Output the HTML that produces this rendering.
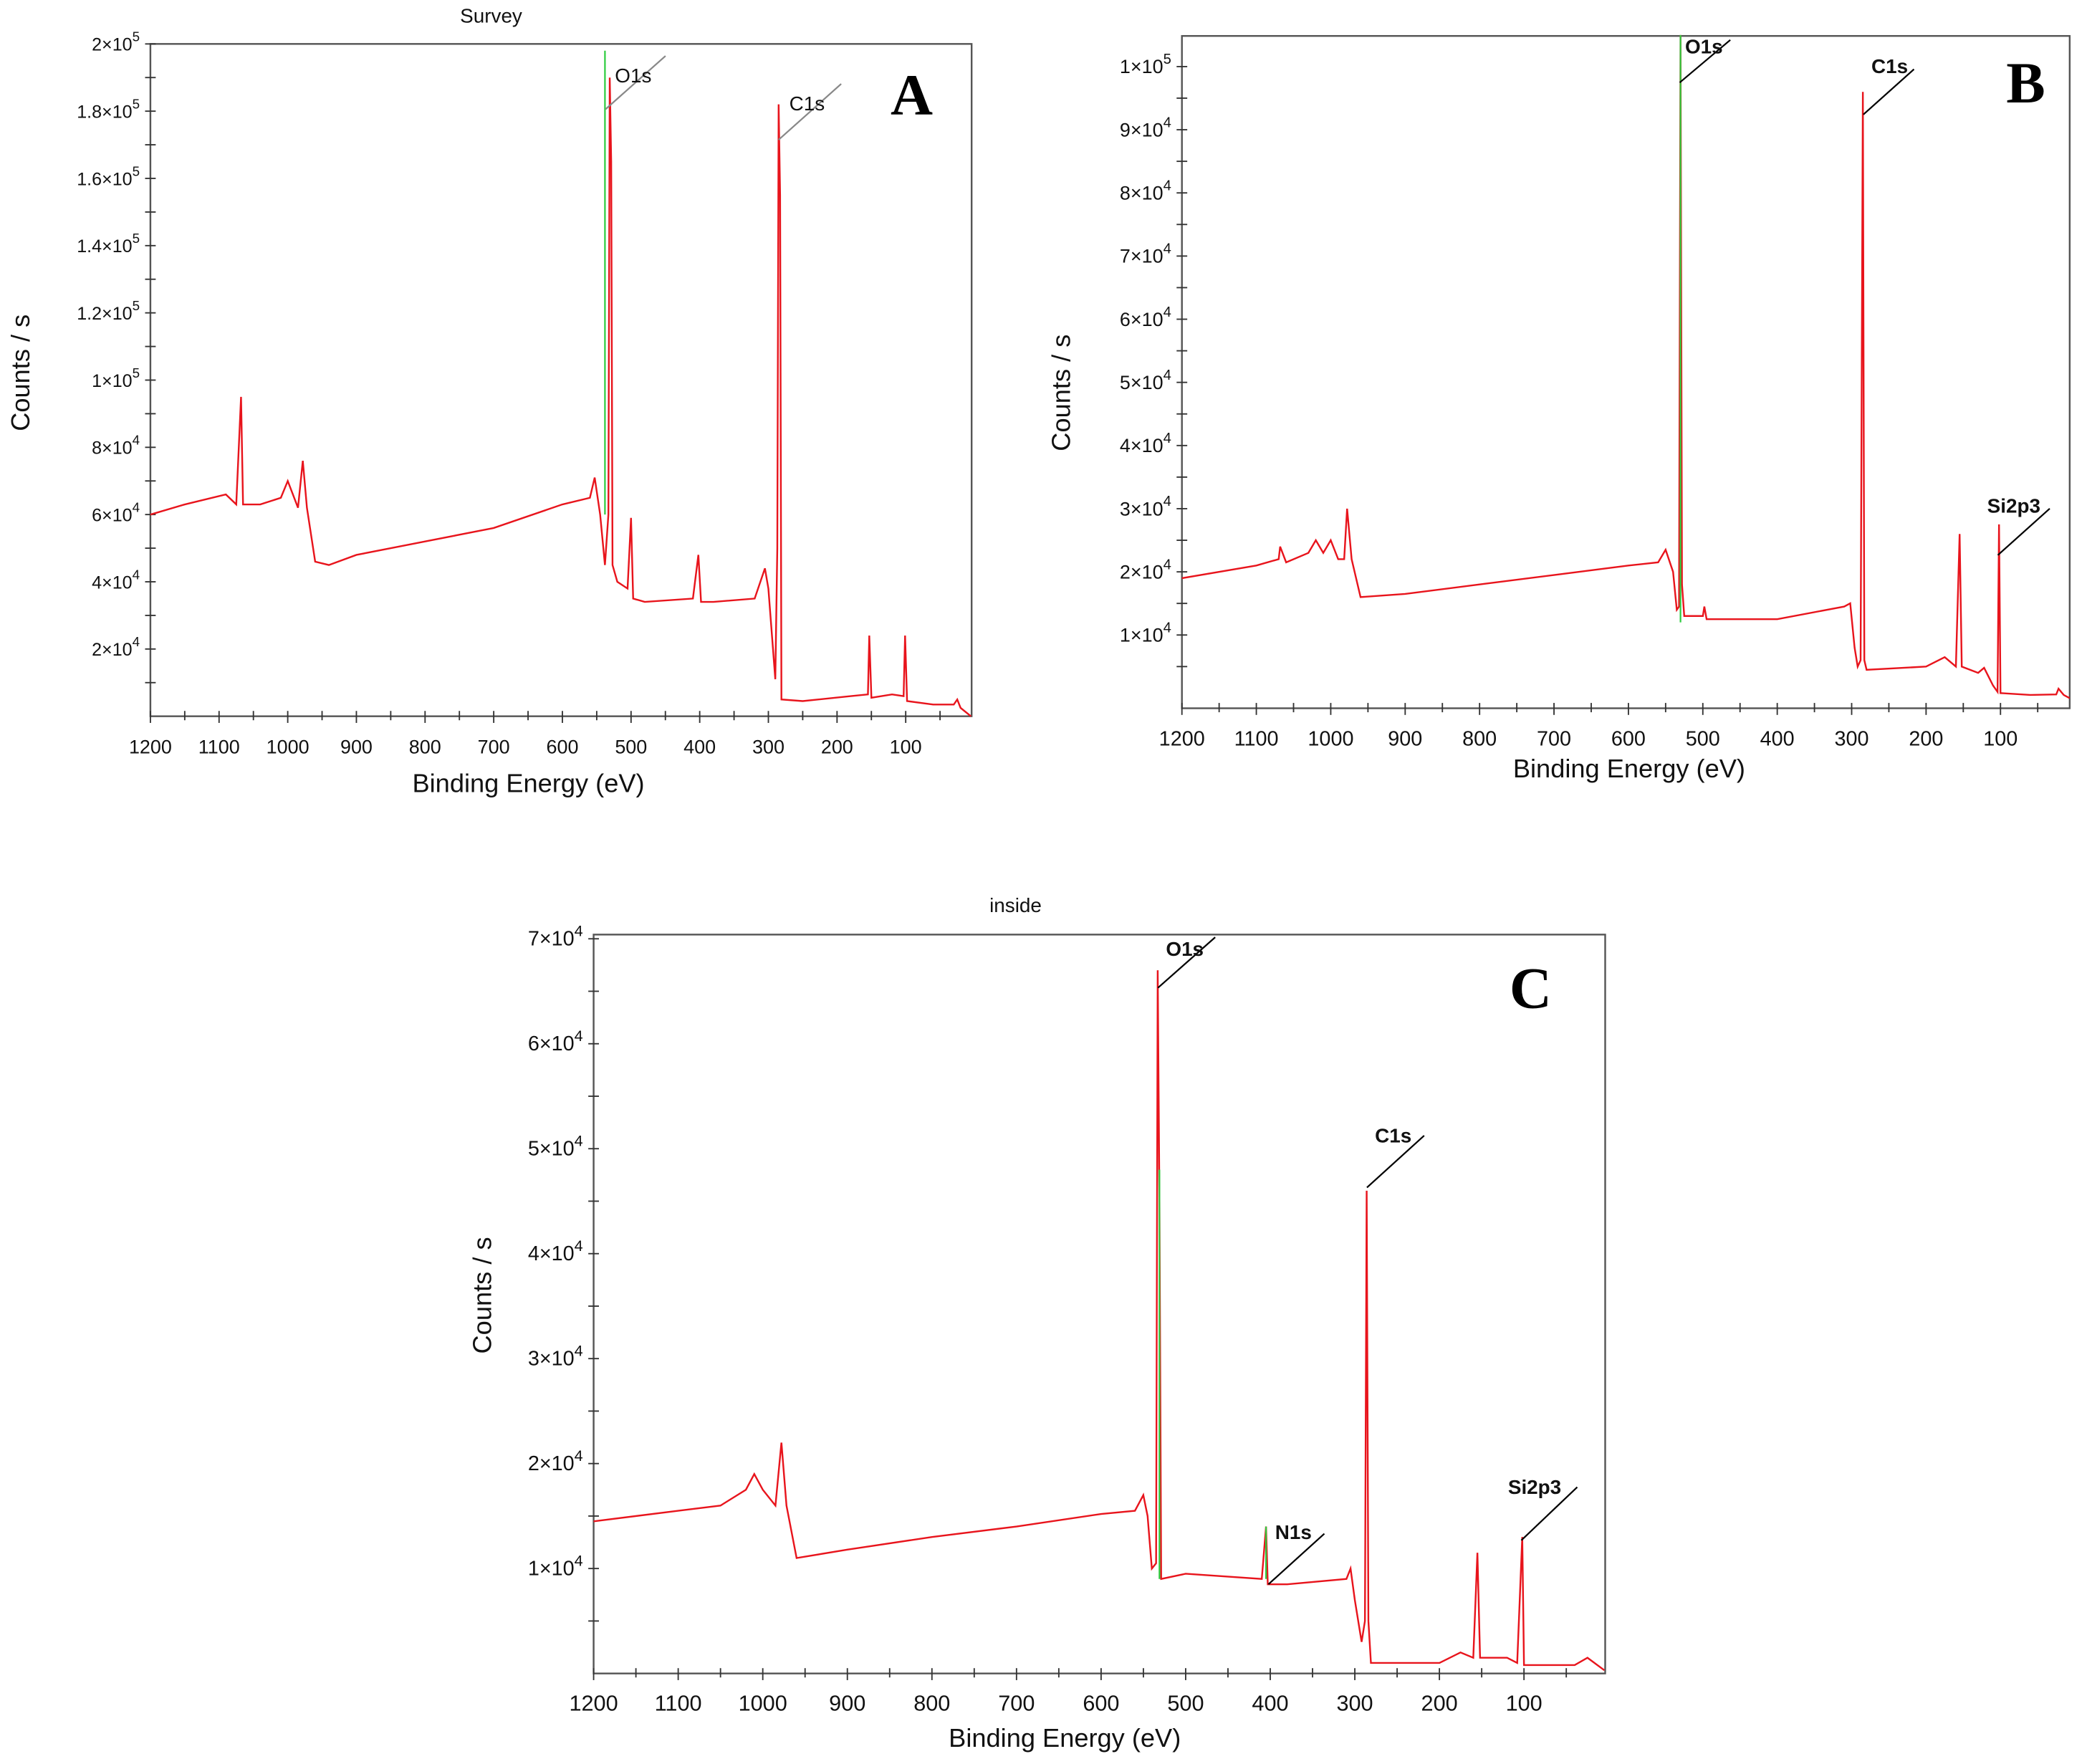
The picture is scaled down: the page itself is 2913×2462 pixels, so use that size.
<!DOCTYPE html>
<html><head><meta charset="utf-8">
<style>
html,body{margin:0;padding:0;background:#fff;}
svg{display:block;}
text{font-family:"Liberation Sans",sans-serif;}
</style></head>
<body>
<svg id="fig" width="2913" height="2462" viewBox="0 0 1568 1325" preserveAspectRatio="none" xmlns="http://www.w3.org/2000/svg"></svg>
<script>
// ---- Panel A data (eV, counts) ----
const aEnergy = [1200,1150,1090,1075,1068,1065,1040,1010,1000,985,978,972,960,940,900,800,700,600,560,553,545,538,533,531,529,527,520,505,500,497,480,410,402,398,380,320,305,300,290,287,285,283,281,250,180,155,153,150,120,103,101,98,60,30,25,20,5];
const aCounts = [60000,63000,66000,63000,95000,63000,63000,65000,70000,62000,76000,62000,46000,45000,48000,52000,56000,63000,65000,71000,60000,45000,60000,190000,165000,45000,40000,38000,59000,35000,34000,35000,48000,34000,34000,35000,44000,38000,11000,50000,182000,155000,5000,4500,6000,6500,24000,5500,6500,6000,24000,4500,3500,3500,5000,2500,0];
const aGreenE = [538,538];
const aGreenC = [60000,198000];
// ---- Panel B data ----
const bEnergy = [1200,1100,1070,1068,1060,1030,1020,1010,1000,990,982,978,972,960,900,800,700,600,560,550,540,535,532,530,528,525,500,498,495,400,310,302,296,292,288,285,283,280,200,175,160,155,152,130,122,110,104,102,100,60,25,22,15,7];
const bCounts = [19000,21000,22000,24000,21500,23000,25000,23000,25000,22000,22000,30000,22000,16000,16500,18000,19500,21000,21500,23500,20000,14000,14500,105000,18000,13000,13000,14500,12500,12500,14500,15000,8000,5000,6000,96000,6000,4500,5000,6500,5000,26000,5000,4000,4800,2000,1000,27500,800,500,600,1500,500,0];
const bGreenE = [530,530];
const bGreenC = [12000,105000];
// ---- Panel C data ----
const cEnergy = [1200,1100,1050,1020,1010,1000,985,978,972,960,900,800,700,600,560,550,545,540,535,533,531,529,500,410,405,403,380,310,305,300,292,288,286,284,281,200,175,160,155,152,120,108,102,100,40,25,5];
const cCounts = [14500,15500,16000,17500,19000,17500,16000,22000,16000,11000,11800,13000,14000,15200,15500,17000,15000,10000,10500,67000,45000,9000,9500,9000,14000,8500,8500,9000,10000,7000,3000,5000,46000,5000,1000,1000,2000,1500,11500,1500,1500,1000,13000,800,800,1500,300];
const cGreenE = [531,531,405,405];
const cGreenC = [9000,48000,9000,14000];
// ---- tick labels ----
const xTickValues = [1200,1100,1000,900,800,700,600,500,400,300,200,100];
const aYTicks = [2,4,6,8,10,12,14,16,18,20];
const aYLabels = [["2","4"],["4","4"],["6","4"],["8","4"],["1","5"],["1.2","5"],["1.4","5"],["1.6","5"],["1.8","5"],["2","5"]];
const bYTicks = [1,2,3,4,5,6,7,8,9,10];
const bYLabels = [["1","4"],["2","4"],["3","4"],["4","4"],["5","4"],["6","4"],["7","4"],["8","4"],["9","4"],["1","5"]];
const cYTicks = [1,2,3,4,5,6,7];
const cYLabels = [["1","4"],["2","4"],["3","4"],["4","4"],["5","4"],["6","4"],["7","4"]];

const NS="http://www.w3.org/2000/svg";
const svg=document.getElementById('fig');
function mk(tag,attrs,parent){const e=document.createElementNS(NS,tag);for(const k in attrs)e.setAttribute(k,attrs[k]);(parent||svg).appendChild(e);return e;}

const panels=[
 {id:'a',L:113,R:730,T:33,B:538,x0:1200,x1:4,y0:0,y1:200000,unit:10000,E:aEnergy,C:aCounts,GE:aGreenE,GC:aGreenC,yt:aYTicks,yl:aYLabels,minor:10000,
  title:'Survey',titleXY:[369,17],xt:[397,595],yt2:[22,280],letter:'A',letterXY:[685,86],lineColor:'#888',
  labels:[['O1s',462,62,455,82,500,42],['C1s',593,83,585,105,632,63]],tickFs:13.5},
 {id:'b',L:888,R:1555,T:27,B:532,x0:1200,x1:7,y0:-1600,y1:104850,unit:10000,E:bEnergy,C:bCounts,GE:bGreenE,GC:bGreenC,yt:bYTicks,yl:bYLabels,minor:5000,
  title:'',xt:[1224,584],yt2:[804,295],letter:'B',letterXY:[1522,77],lineColor:'#000',
  labels:[['O1s',1266,40,1262,62,1300,30],['C1s',1406,55,1400,86,1438,52],['Si2p3',1493,385,1501,417,1540,382]],tickFs:14.5},
 {id:'c',L:446,R:1206,T:702,B:1257,x0:1200,x1:4,y0:0,y1:70400,unit:10000,E:cEnergy,C:cCounts,GE:cGreenE,GC:cGreenC,yt:cYTicks,yl:cYLabels,minor:5000,
  title:'inside',titleXY:[763,685],xt:[800,1312],yt2:[369,973],letter:'C',letterXY:[1150,757],lineColor:'#000',
  labels:[['O1s',876,718,870,742,913,704],['C1s',1033,858,1027,892,1070,853],['N1s',958,1156,953,1190,995,1152],['Si2p3',1133,1122,1143,1157,1185,1117]],tickFs:15.5}
];

panels.forEach(p=>{
  const g=mk('g',{});
  
  
  const X=v=>p.L+(p.x0-v)/(p.x0-p.x1)*(p.R-p.L);
  const Y=v=>p.B-(v-p.y0)/(p.y1-p.y0)*(p.B-p.T);
  const frame=mk('rect',{x:p.L,y:p.T,width:p.R-p.L,height:p.B-p.T,fill:'none',stroke:'#555','stroke-width':1.3},g);
  
  
  // x ticks
  for(let v=1200;v>=50;v-=50){
    const major=v%100===0;
    mk('line',{x1:X(v),x2:X(v),y1:p.B-4,y2:p.B+(major?5:3),stroke:'#333','stroke-width':1},g);
  }
  xTickValues.forEach(v=>{
    const t=mk('text',{x:X(v),y:p.B+28,'font-size':p.tickFs+1,'text-anchor':'middle',fill:'#111'},g);
    t.textContent=v;
    
    
  });
  // y ticks
  for(let v=p.minor;v<=p.y1;v+=p.minor){
    mk('line',{x1:p.L-4,x2:p.L+4,y1:Y(v),y2:Y(v),stroke:'#333','stroke-width':1},g);
  }
  p.yt.forEach((v,i)=>{
    const yy=Y(v*p.unit);
    const t=mk('text',{x:p.L-8,y:yy+5,'font-size':p.tickFs,'text-anchor':'end',fill:'#111'},g);
    
    
    const s1=mk('tspan',{},t);s1.textContent=p.yl[i][0]+'×10';
    const s2=mk('tspan',{dy:-7,'font-size':p.tickFs*0.75},t);s2.textContent=p.yl[i][1];
  });
  // series
  const pts=p.E.map((e,i)=>X(e).toFixed(1)+','+Y(p.C[i]).toFixed(1)).join(' ');
  const line=mk('polyline',{points:pts,fill:'none',stroke:'#e8141c','stroke-width':1.3},g);
  
  
  for(let i=0;i<p.GE.length;i+=2){
    const gl=mk('line',{x1:X(p.GE[i]),x2:X(p.GE[i+1]),y1:Y(p.GC[i]),y2:Y(p.GC[i+1]),stroke:'#2ecc40','stroke-width':1.2},g);
    
    
  }
  // peak labels
  p.labels.forEach(l=>{
    const ln=mk('line',{x1:l[3],y1:l[4],x2:l[5],y2:l[6],stroke:p.lineColor,'stroke-width':1.2},g);
    
    
    const t=mk('text',{x:l[1],y:l[2],'font-size':15,fill:'#111','font-weight':p.id==='a'?'normal':'bold'},g);
    t.textContent=l[0];
    
    
  });
  // titles
  if(p.title){
    const t=mk('text',{x:p.titleXY[0],y:p.titleXY[1],'font-size':15,'text-anchor':'middle',fill:'#111'},g);
    t.textContent=p.title;
    
    
  }
  const xt=mk('text',{x:p.xt[0],y:p.xt[1],'font-size':19.5,'text-anchor':'middle',fill:'#111'},g);
  xt.textContent='Binding Energy (eV)';
  
  
  const yt=mk('text',{x:p.yt2[0],y:p.yt2[1],'font-size':19.5,'text-anchor':'middle',fill:'#111',transform:'rotate(-90 '+p.yt2[0]+' '+p.yt2[1]+')'},g);
  yt.textContent='Counts / s';
  
  
  const lt=mk('text',{x:p.letterXY[0],y:p.letterXY[1],'font-size':44,'font-weight':'bold','text-anchor':'middle',fill:'#000',style:'font-family:"Liberation Serif",serif'},g);
  lt.textContent=p.letter;
  
  
});
</script>
</body></html>
